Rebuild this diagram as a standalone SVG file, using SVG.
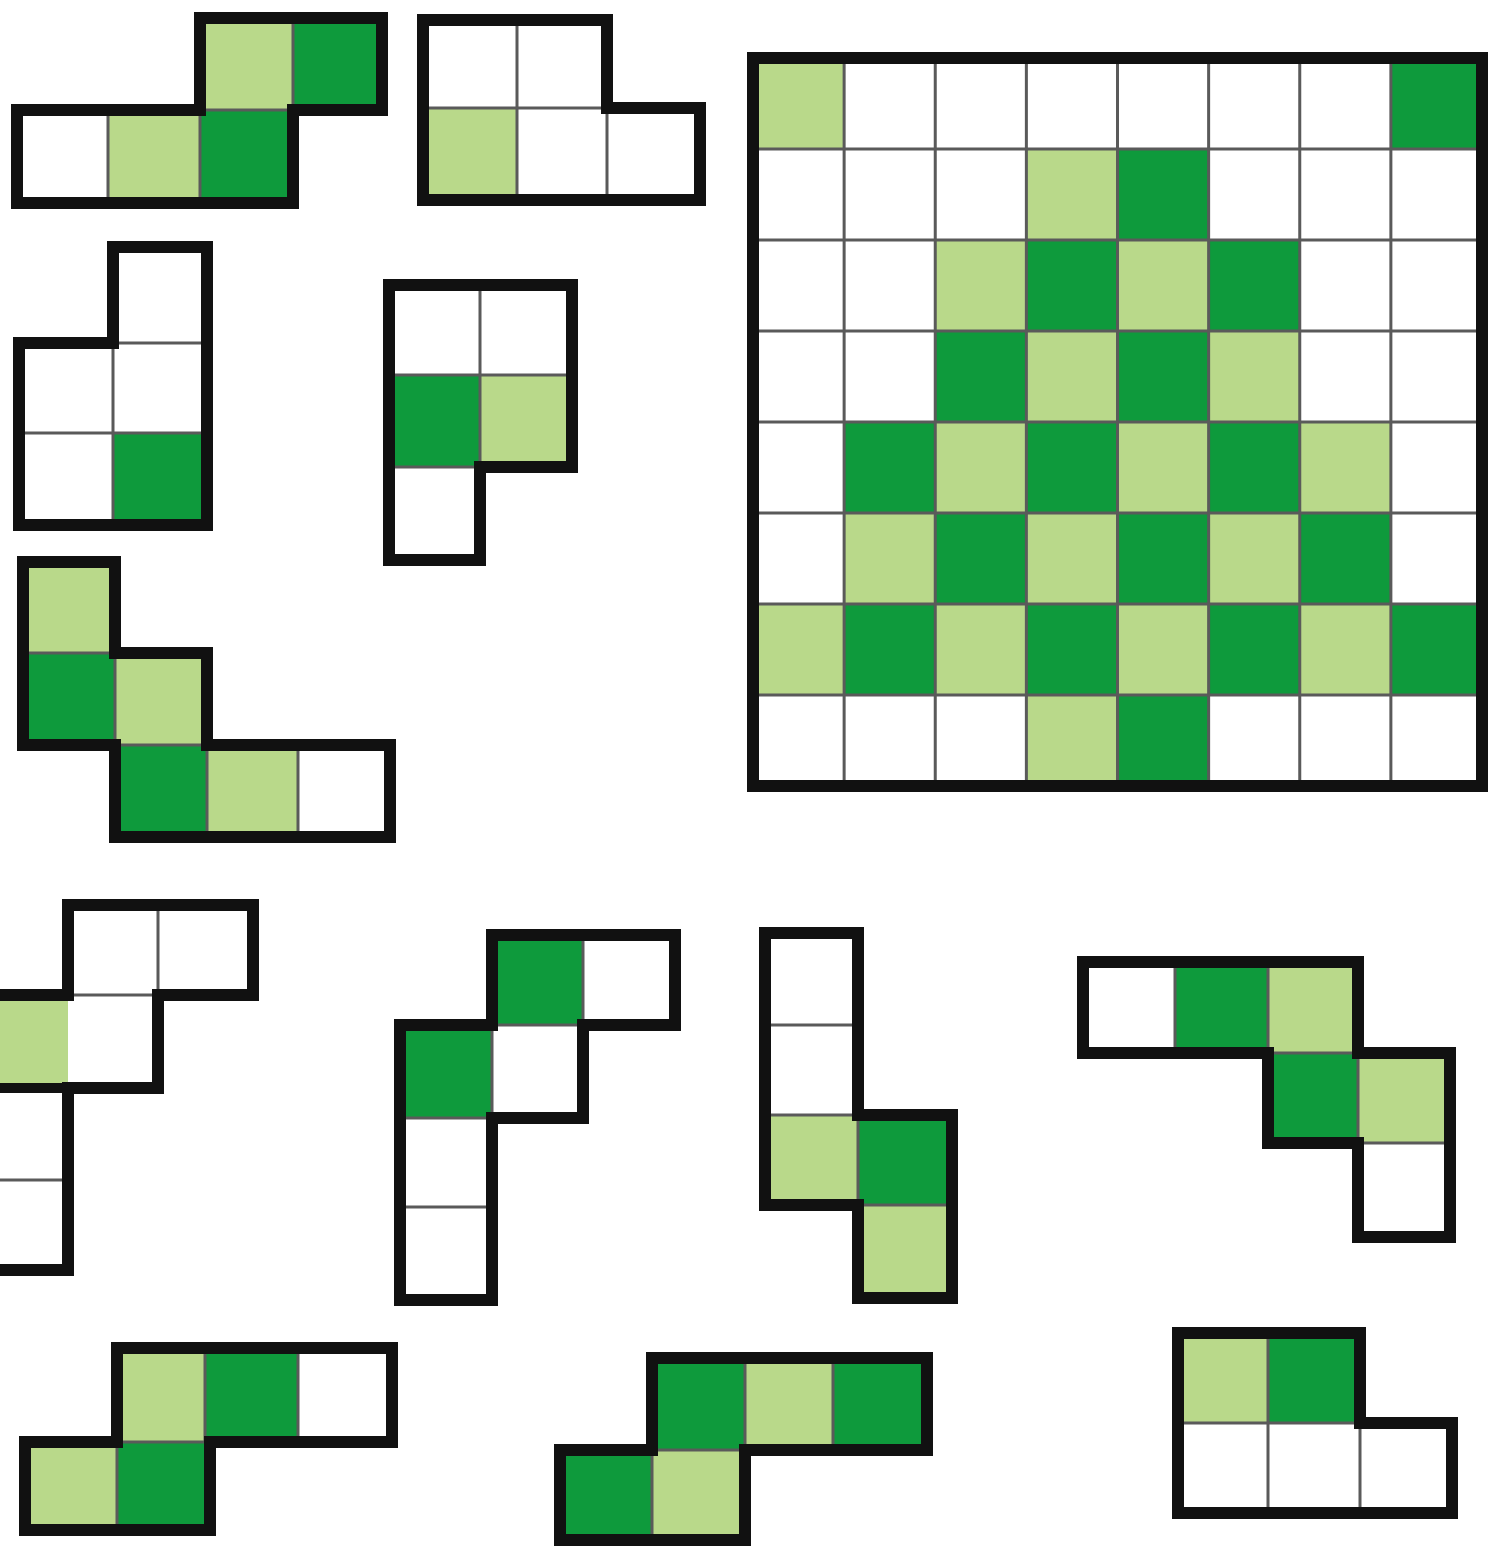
<svg xmlns="http://www.w3.org/2000/svg" width="1500" height="1549" viewBox="0 0 1500 1549">
<style>
.L{fill:#b9d98a}
.D{fill:#0e9a3c}
.W{fill:#ffffff}
.o{fill:none;stroke:#111;stroke-width:12;stroke-linejoin:miter;stroke-linecap:square}
.i{fill:none;stroke:#5a5a5a;stroke-width:3}
.t{fill:none;stroke:#111;stroke-width:10}
</style>
<rect x="0" y="0" width="1500" height="1549" fill="#ffffff"/>

<g id="piece-1">
<rect class="W" x="17" y="110" width="91" height="93"/>
<rect class="L" x="108" y="110" width="92" height="93"/>
<rect class="D" x="200" y="110" width="93" height="93"/>
<rect class="L" x="200" y="18" width="93" height="92"/>
<rect class="D" x="293" y="18" width="89" height="92"/>
<path class="i" d="M108,110V203M200,110V203M200,110H293M293,18V110"/>
<path class="o" d="M17,110H200V18H382V110H293V203H17Z"/>
</g>

<g id="piece-2">
<rect class="W" x="423" y="20" width="94" height="88"/>
<rect class="W" x="517" y="20" width="90" height="88"/>
<rect class="L" x="423" y="108" width="94" height="92"/>
<rect class="W" x="517" y="108" width="90" height="92"/>
<rect class="W" x="607" y="108" width="93" height="92"/>
<path class="i" d="M517,20V200M423,108H607M607,108V200"/>
<path class="o" d="M423,20H607V108H700V200H423Z"/>
</g>

<g id="piece-3">
<rect class="W" x="113" y="247" width="94" height="96"/>
<rect class="W" x="19" y="343" width="94" height="90"/>
<rect class="W" x="113" y="343" width="94" height="90"/>
<rect class="W" x="19" y="433" width="94" height="92"/>
<rect class="D" x="113" y="433" width="94" height="92"/>
<path class="i" d="M113,343H207M113,343V525M19,433H207"/>
<path class="o" d="M19,343H113V247H207V525H19Z"/>
</g>

<g id="piece-4">
<rect class="W" x="389" y="285" width="91" height="90"/>
<rect class="W" x="480" y="285" width="92" height="90"/>
<rect class="D" x="389" y="375" width="91" height="92"/>
<rect class="L" x="480" y="375" width="92" height="92"/>
<rect class="W" x="389" y="467" width="91" height="93"/>
<path class="i" d="M480,285V467M389,375H572M389,467H480"/>
<path class="o" d="M389,285H572V467H480V560H389Z"/>
</g>

<g id="piece-5">
<rect class="L" x="23" y="562" width="92" height="91"/>
<rect class="D" x="23" y="653" width="92" height="92"/>
<rect class="L" x="115" y="653" width="92" height="92"/>
<rect class="D" x="115" y="745" width="92" height="92"/>
<rect class="L" x="207" y="745" width="91" height="92"/>
<rect class="W" x="298" y="745" width="92" height="92"/>
<path class="i" d="M23,653H115M115,653V745M115,745H207M207,745V837M298,745V837"/>
<path class="o" d="M23,562H115V653H207V745H390V837H115V745H23Z"/>
</g>

<g id="piece-6">
<rect class="W" x="68" y="905" width="90" height="90"/>
<rect class="W" x="158" y="905" width="95" height="90"/>
<rect class="L" x="-23" y="995" width="91" height="93"/>
<rect class="W" x="68" y="995" width="90" height="93"/>
<rect class="W" x="-23" y="1088" width="91" height="92"/>
<rect class="W" x="-23" y="1180" width="91" height="90"/>
<path class="i" d="M158,905V995M68,995H158M-23,1180H68"/>
<path class="t" d="M-23,1088H68"/>
<path class="o" d="M-23,995H68V905H253V995H158V1088H68V1270H-23"/>
</g>

<g id="piece-7">
<rect class="D" x="492" y="935" width="91" height="90"/>
<rect class="W" x="583" y="935" width="92" height="90"/>
<rect class="D" x="400" y="1025" width="92" height="93"/>
<rect class="W" x="492" y="1025" width="91" height="93"/>
<rect class="W" x="400" y="1118" width="92" height="89"/>
<rect class="W" x="400" y="1207" width="92" height="93"/>
<path class="i" d="M583,935V1025M492,1025H583M492,1025V1118M400,1118H492M400,1207H492"/>
<path class="o" d="M400,1025H492V935H675V1025H583V1118H492V1300H400Z"/>
</g>

<g id="piece-8">
<rect class="W" x="765" y="933" width="93" height="92"/>
<rect class="W" x="765" y="1025" width="93" height="90"/>
<rect class="L" x="765" y="1115" width="93" height="90"/>
<rect class="D" x="858" y="1115" width="94" height="90"/>
<rect class="L" x="858" y="1205" width="94" height="93"/>
<path class="i" d="M765,1025H858M765,1115H858M858,1115V1205M858,1205H952"/>
<path class="o" d="M765,933H858V1115H952V1298H858V1205H765Z"/>
</g>

<g id="piece-9">
<rect class="W" x="1083" y="962" width="92" height="91"/>
<rect class="D" x="1175" y="962" width="93" height="91"/>
<rect class="L" x="1268" y="962" width="90" height="91"/>
<rect class="D" x="1268" y="1053" width="90" height="90"/>
<rect class="L" x="1358" y="1053" width="92" height="90"/>
<rect class="W" x="1358" y="1143" width="92" height="94"/>
<path class="i" d="M1175,962V1053M1268,962V1053M1268,1053H1358M1358,1053V1143M1358,1143H1450"/>
<path class="o" d="M1083,962H1358V1053H1450V1237H1358V1143H1268V1053H1083Z"/>
</g>

<g id="piece-10">
<rect class="L" x="117" y="1348" width="88" height="94"/>
<rect class="D" x="205" y="1348" width="93" height="94"/>
<rect class="W" x="298" y="1348" width="94" height="94"/>
<rect class="L" x="25" y="1442" width="92" height="88"/>
<rect class="D" x="117" y="1442" width="93" height="88"/>
<path class="i" d="M205,1348V1442M298,1348V1442M117,1442H210M117,1442V1530"/>
<path class="o" d="M117,1348H392V1442H210V1530H25V1442H117Z"/>
</g>

<g id="piece-11">
<rect class="D" x="652" y="1358" width="93" height="92"/>
<rect class="L" x="745" y="1358" width="88" height="92"/>
<rect class="D" x="833" y="1358" width="94" height="92"/>
<rect class="D" x="560" y="1450" width="92" height="90"/>
<rect class="L" x="652" y="1450" width="93" height="90"/>
<path class="i" d="M745,1358V1450M833,1358V1450M652,1450H745M652,1450V1540"/>
<path class="o" d="M652,1358H927V1450H745V1540H560V1450H652Z"/>
</g>

<g id="piece-12">
<rect class="L" x="1178" y="1333" width="90" height="90"/>
<rect class="D" x="1268" y="1333" width="92" height="90"/>
<rect class="W" x="1178" y="1423" width="90" height="90"/>
<rect class="W" x="1268" y="1423" width="92" height="90"/>
<rect class="W" x="1360" y="1423" width="92" height="90"/>
<path class="i" d="M1268,1333V1513M1178,1423H1360M1360,1423V1513"/>
<path class="o" d="M1178,1333H1360V1423H1452V1513H1178Z"/>
</g>

<g id="board" transform="translate(753,58)">
<rect class="W" x="0" y="0" width="729" height="728"/>
<rect class="L" x="0" y="0" width="91.125" height="91"/>
<rect class="D" x="637.875" y="0" width="91.125" height="91"/>
<rect class="L" x="273.375" y="91" width="91.125" height="91"/>
<rect class="D" x="364.5" y="91" width="91.125" height="91"/>
<rect class="L" x="182.25" y="182" width="91.125" height="91"/>
<rect class="D" x="273.375" y="182" width="91.125" height="91"/>
<rect class="L" x="364.5" y="182" width="91.125" height="91"/>
<rect class="D" x="455.625" y="182" width="91.125" height="91"/>
<rect class="D" x="182.25" y="273" width="91.125" height="91"/>
<rect class="L" x="273.375" y="273" width="91.125" height="91"/>
<rect class="D" x="364.5" y="273" width="91.125" height="91"/>
<rect class="L" x="455.625" y="273" width="91.125" height="91"/>
<rect class="D" x="91.125" y="364" width="91.125" height="91"/>
<rect class="L" x="182.25" y="364" width="91.125" height="91"/>
<rect class="D" x="273.375" y="364" width="91.125" height="91"/>
<rect class="L" x="364.5" y="364" width="91.125" height="91"/>
<rect class="D" x="455.625" y="364" width="91.125" height="91"/>
<rect class="L" x="546.75" y="364" width="91.125" height="91"/>
<rect class="L" x="91.125" y="455" width="91.125" height="91"/>
<rect class="D" x="182.25" y="455" width="91.125" height="91"/>
<rect class="L" x="273.375" y="455" width="91.125" height="91"/>
<rect class="D" x="364.5" y="455" width="91.125" height="91"/>
<rect class="L" x="455.625" y="455" width="91.125" height="91"/>
<rect class="D" x="546.75" y="455" width="91.125" height="91"/>
<rect class="L" x="0" y="546" width="91.125" height="91"/>
<rect class="D" x="91.125" y="546" width="91.125" height="91"/>
<rect class="L" x="182.25" y="546" width="91.125" height="91"/>
<rect class="D" x="273.375" y="546" width="91.125" height="91"/>
<rect class="L" x="364.5" y="546" width="91.125" height="91"/>
<rect class="D" x="455.625" y="546" width="91.125" height="91"/>
<rect class="L" x="546.75" y="546" width="91.125" height="91"/>
<rect class="D" x="637.875" y="546" width="91.125" height="91"/>
<rect class="L" x="273.375" y="637" width="91.125" height="91"/>
<rect class="D" x="364.5" y="637" width="91.125" height="91"/>
<path class="i" d="M91.125,0V728M182.25,0V728M273.375,0V728M364.5,0V728M455.625,0V728M546.75,0V728M637.875,0V728M0,91H729M0,182H729M0,273H729M0,364H729M0,455H729M0,546H729M0,637H729"/>
<rect class="o" x="0" y="0" width="729" height="728"/>
</g>
</svg>
